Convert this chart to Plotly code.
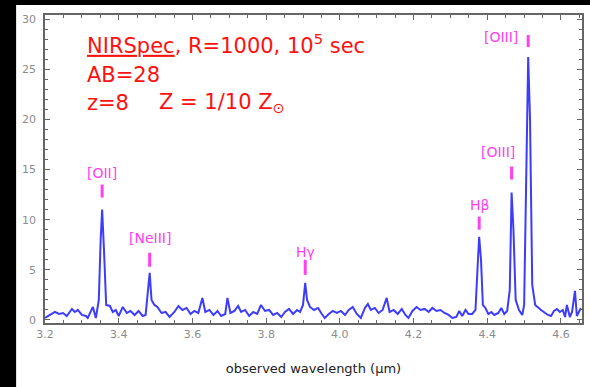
import plotly.graph_objects as go

# ---- spectrum ----
wavelength = [3.200, 3.2135, 3.227, 3.238, 3.249, 3.259, 3.273, 3.281, 3.289, 3.300,
              3.311, 3.316, 3.330, 3.338, 3.346, 3.351, 3.355, 3.360, 3.366, 3.376,
              3.384, 3.392, 3.400, 3.411, 3.422, 3.432, 3.443, 3.454, 3.465, 3.473,
              3.478, 3.484, 3.489, 3.497, 3.505, 3.516, 3.527, 3.538, 3.551, 3.562,
              3.573, 3.584, 3.595, 3.605, 3.616, 3.627, 3.635, 3.646, 3.657, 3.668,
              3.678, 3.689, 3.695, 3.703, 3.714, 3.724, 3.732, 3.743, 3.754, 3.765,
              3.776, 3.786, 3.797, 3.808, 3.819, 3.830, 3.841, 3.851, 3.862, 3.873,
              3.884, 3.892, 3.900, 3.906, 3.911, 3.919, 3.930, 3.941, 3.951, 3.959,
              3.970, 3.981, 3.992, 4.003, 4.014, 4.024, 4.035, 4.046, 4.057, 4.068,
              4.076, 4.084, 4.095, 4.105, 4.116, 4.127, 4.135, 4.146, 4.157, 4.168,
              4.178, 4.186, 4.197, 4.208, 4.219, 4.230, 4.241, 4.251, 4.262, 4.273,
              4.284, 4.295, 4.305, 4.316, 4.324, 4.332, 4.341, 4.349, 4.359, 4.368,
              4.374, 4.378, 4.383, 4.388, 4.395, 4.403, 4.411, 4.419, 4.430, 4.438,
              4.446, 4.454, 4.461, 4.466, 4.471, 4.477, 4.486, 4.495, 4.500, 4.505,
              4.511, 4.516, 4.522, 4.530, 4.538, 4.546, 4.557, 4.565, 4.573, 4.581,
              4.589, 4.597, 4.605, 4.611, 4.616, 4.624, 4.630, 4.635, 4.638, 4.643,
              4.649, 4.654]
flux = [0.2, 0.5, 0.8, 0.6, 0.7, 0.4, 1.1, 0.8, 1.0, 0.5,
        0.4, 0.2, 1.3, 0.2, 2.0, 8.0, 11.0, 7.0, 1.5, 1.4,
        0.8, 1.0, 0.4, 1.3, 0.7, 0.9, 0.5, 0.9, 0.4, 0.5,
        2.5, 4.7, 2.0, 1.5, 1.3, 0.7, 0.8, 0.3, 0.8, 1.4,
        1.0, 1.2, 0.6, 0.9, 0.7, 2.2, 0.8, 1.0, 0.5, 0.9,
        0.4, 0.6, 2.2, 0.7, 0.9, 1.4, 0.8, 1.0, 0.4, 0.8,
        0.6, 1.5, 0.9, 1.0, 0.5, 0.7, 0.3, 0.8, 1.1, 0.6,
        1.0, 0.8, 1.5, 3.7, 2.0, 1.3, 1.0, 1.2, 0.6, 0.2,
        0.6, 0.9, 0.7, 0.9, 0.5, 1.0, 1.3, 0.6, 0.2, 1.2,
        1.6, 1.0, 1.2, 0.7, 1.0, 2.2, 0.8, 1.0, 0.6, 1.1,
        0.5, 0.2, 0.9, 1.3, 1.0, 1.1, 0.8, 1.2, 0.9, 1.0,
        0.7, 0.5, 0.2, 0.3, 0.9, 0.4, 1.0, 0.6, 0.6, 1.0,
        5.5, 8.3, 6.0, 1.5, 1.2, 0.6, 0.8, 0.5, 0.7, 1.2,
        0.6, 0.9, 3.0, 12.7, 9.0, 2.0, 1.0, 0.5, 1.5, 14.0,
        26.2, 20.0, 3.5, 1.5, 1.2, 1.0, 0.7, 0.5, 0.4, 0.9,
        1.1, 0.8, 1.0, 0.3, 1.5, 0.3, 0.8, 2.5, 2.9, 0.4,
        0.8, 1.2]

# ---- emission line labels ----
line_names = ["[OII]", "[NeIII]", "Hγ", "Hβ", "[OIII]", "[OIII]"]
line_wave = [3.355, 3.484, 3.906, 4.378, 4.466, 4.511]
bar_lo = [12.2, 5.3, 4.5, 9.0, 14.0, 27.2]
bar_hi = [13.5, 6.7, 6.0, 10.3, 15.3, 28.4]
text_x = [3.355, 3.484, 3.906, 4.378, 4.430, 4.438]
text_y = [14.7, 8.2, 6.8, 11.5, 16.7, 28.2]

x_ticks = [3.2, 3.4, 3.6, 3.8, 4.0, 4.2, 4.4, 4.6]
x_ticklabels = ["3.2", "3.4", "3.6", "3.8", "4.0", "4.2", "4.4", "4.6"]
y_ticks = [0, 5, 10, 15, 20, 25, 30]

MAGENTA = "#ff40f0"
RED = "#ff1010"

fig = go.Figure()
fig.add_trace(go.Scatter(x=wavelength, y=flux, mode="lines",
                         line=dict(color="rgb(60,60,250)", width=2),
                         hoverinfo="skip", showlegend=False))

bx, by = [], []
for w, lo, hi in zip(line_wave, bar_lo, bar_hi):
    bx += [w, w, None]
    by += [lo, hi, None]
fig.add_trace(go.Scatter(x=bx, y=by, mode="lines",
                         line=dict(color=MAGENTA, width=3),
                         hoverinfo="skip", showlegend=False))

for name, tx, ty in zip(line_names, text_x, text_y):
    fig.add_annotation(x=tx, y=ty, text=name, showarrow=False,
                       font=dict(family="DejaVu Sans", size=14, color=MAGENTA),
                       xanchor="center", yanchor="middle")

# red info text
info_font = dict(family="DejaVu Sans", size=21, color=RED)
fig.add_annotation(x=3.308, y=27.5, text="<u>NIRSpec</u>, R=1000, 10<sup>5</sup> sec",
                   showarrow=False, xanchor="left", yanchor="middle", font=info_font)
fig.add_annotation(x=3.308, y=24.4, text="AB=28",
                   showarrow=False, xanchor="left", yanchor="middle", font=info_font)
fig.add_annotation(x=3.308, y=21.6, text="z=8",
                   showarrow=False, xanchor="left", yanchor="middle", font=info_font)
fig.add_annotation(x=3.505, y=21.6, text="Z = 1/10 Z<sub>⊙</sub>",
                   showarrow=False, xanchor="left", yanchor="middle", font=info_font)

# black border strips of the original screenshot
fig.add_shape(type="rect", xref="paper", yref="paper", x0=-0.2, x1=-0.0538, y0=-0.4, y1=1.2,
              fillcolor="black", line_width=0, layer="above")
fig.add_shape(type="rect", xref="paper", yref="paper", x0=-0.2, x1=1.2, y0=1.0325, y1=1.2,
              fillcolor="black", line_width=0, layer="above")

axis_col = "#666666"
fig.update_xaxes(range=[3.2, 4.657], tickvals=x_ticks, ticktext=x_ticklabels,
                 ticks="inside", ticklen=5, tickwidth=1.2, tickcolor=axis_col,
                 minor=dict(dtick=0.05, tick0=3.2, ticks="inside", ticklen=3, tickcolor=axis_col),
                 showline=True, linecolor=axis_col, linewidth=1.5, mirror="allticks",
                 showgrid=False, zeroline=False,
                 tickfont=dict(family="DejaVu Sans", size=11, color="#8c8c8c"),
                 title=dict(text="observed wavelength (µm)", standoff=24,
                            font=dict(family="DejaVu Sans", size=13, color="#222222")))
fig.update_yaxes(range=[-0.3, 30.4], tickvals=y_ticks,
                 ticks="inside", ticklen=5, tickwidth=1.2, tickcolor=axis_col,
                 minor=dict(dtick=1, tick0=0, ticks="inside", ticklen=3, tickcolor=axis_col),
                 showline=True, linecolor=axis_col, linewidth=1.5, mirror="allticks",
                 showgrid=False, zeroline=False, ticklabelstandoff=5,
                 tickfont=dict(family="DejaVu Sans", size=11, color="#8c8c8c"))

fig.update_layout(width=590, height=387,
                  margin=dict(l=45, r=6, t=15, b=64),
                  paper_bgcolor="white", plot_bgcolor="white")

fig.write_html("out.html")
